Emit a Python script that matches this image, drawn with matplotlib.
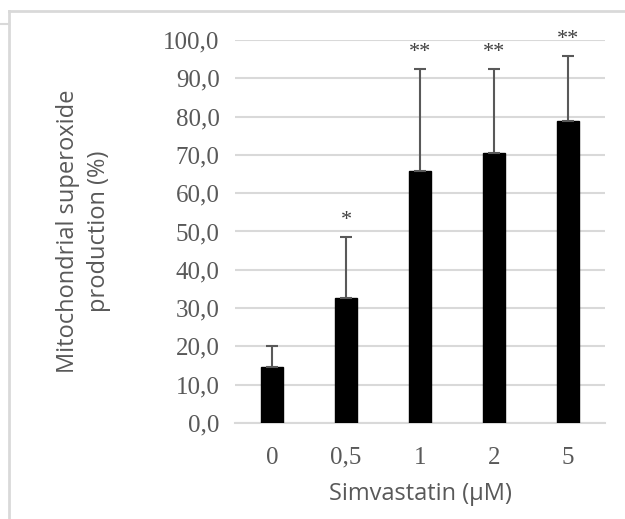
import matplotlib
matplotlib.use("Agg")
import matplotlib.pyplot as plt
from matplotlib.lines import Line2D
import numpy as np

categories = ["0", "0,5", "1", "2", "5"]
means = [14.6, 32.6, 65.8, 70.6, 78.9]
errors = [5.6, 16.0, 26.6, 21.8, 17.0]
stars = ["", "*", "**", "**", "**"]
yticks = [0, 10, 20, 30, 40, 50, 60, 70, 80, 90, 100]
ytick_labels = ["0,0", "10,0", "20,0", "30,0", "40,0", "50,0", "60,0", "70,0", "80,0", "90,0", "100,0"]

fig = plt.figure(figsize=(6.25, 5.19), dpi=100)
ax = fig.add_axes([0.376, 0.185, 0.592, 0.738])

x = np.arange(len(categories))
ax.bar(x, means, width=0.31, color="black", edgecolor="black", zorder=3)
ax.errorbar(x, means, yerr=[np.zeros(len(means)), errors], fmt="none",
            ecolor="#595959", elinewidth=1.5, capsize=4, capthick=1.5, zorder=4)
for xi, m, e, s in zip(x, means, errors, stars):
    if s:
        ax.text(xi, m + e + 1.8, s, ha="center", va="bottom", fontsize=16,
                family="Liberation Serif", color="#404040")

ax.set_xlim(-0.5, len(categories) - 0.5)
ax.set_ylim(0, 100)
ax.set_yticks(yticks)
ax.set_yticklabels(ytick_labels)
ax.set_xticks(x)
ax.set_xticklabels(categories)
for lab in ax.get_xticklabels() + ax.get_yticklabels():
    lab.set_family("Liberation Serif")
    lab.set_fontsize(18)
    lab.set_color("#595959")
ax.tick_params(axis="both", length=0)
ax.tick_params(axis="y", pad=11)
ax.tick_params(axis="x", pad=17)
ax.grid(axis="y", color="#d9d9d9", linewidth=1.5, zorder=0)
ax.set_axisbelow(True)
for sp in ["top", "right", "left"]:
    ax.spines[sp].set_visible(False)
ax.spines["bottom"].set_color("#d9d9d9")
ax.spines["bottom"].set_linewidth(1.5)

ax.set_ylabel("Mitochondrial superoxide\nproduction (%)", fontsize=17, family="Open Sans",
              color="#595959", linespacing=1.4)
ax.yaxis.set_label_coords(-0.335, 0.5)
ax.set_xlabel("Simvastatin (µM)", fontsize=17, family="Open Sans", color="#595959")
ax.xaxis.set_label_coords(0.5, -0.155)

# frame remnants
fig.add_artist(Line2D([9/625, 9/625], [0, 1 - 11/519], color="#d9d9d9", lw=2, transform=fig.transFigure))
fig.add_artist(Line2D([9/625, 1], [1 - 11/519, 1 - 11/519], color="#d9d9d9", lw=2, transform=fig.transFigure))
fig.add_artist(Line2D([0, 9/625], [1 - 24/519, 1 - 24/519], color="#d9d9d9", lw=1.5, transform=fig.transFigure))

fig.savefig("out.png", dpi=100)
